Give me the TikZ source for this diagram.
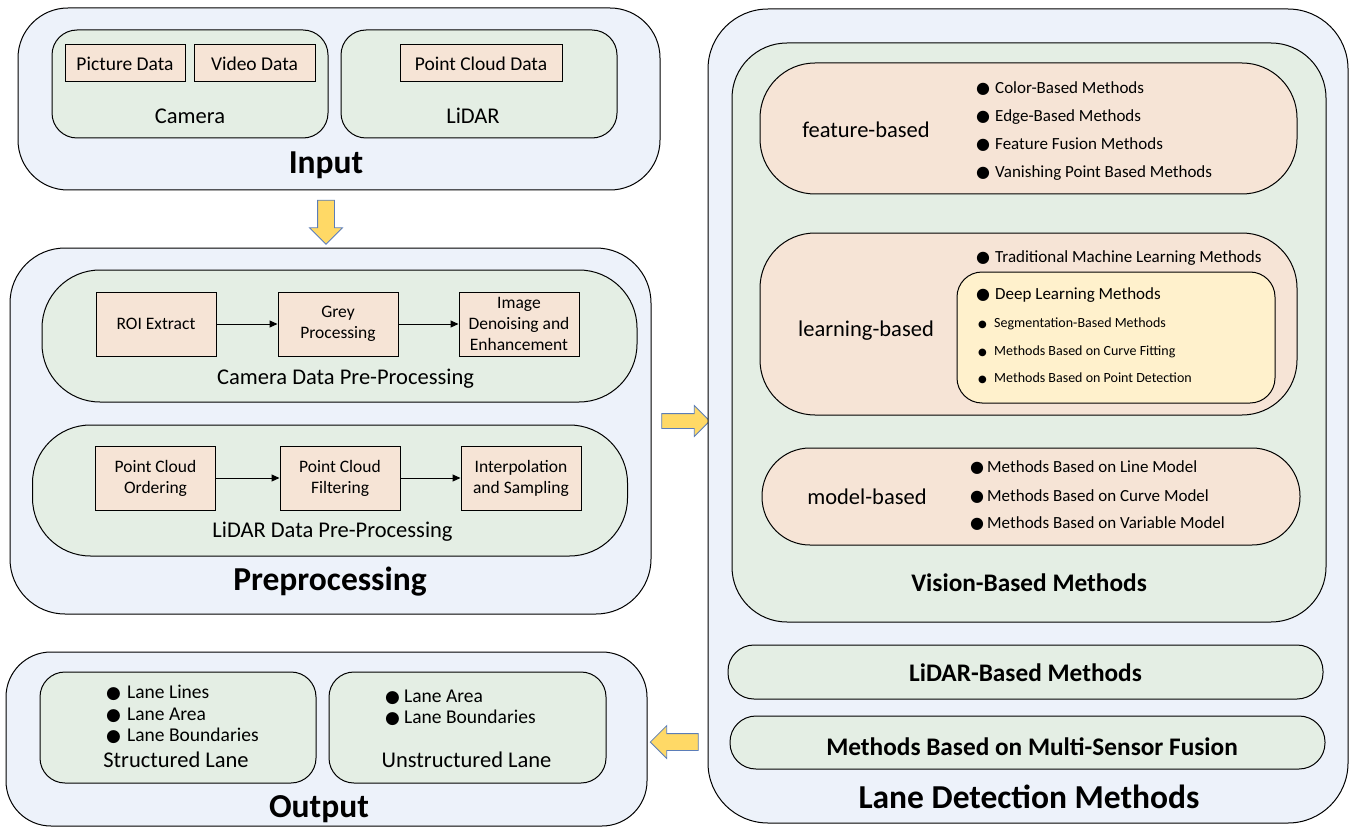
\documentclass[tikz,border=0pt]{standalone}
\usepackage{fontspec}
\setmainfont{Carlito}
\newfontfamily\symfont{DejaVu Sans}
\usetikzlibrary{shapes.arrows}
\usetikzlibrary{arrows.meta}

\definecolor{boxblue}{HTML}{EDF2FA}
\definecolor{boxgreen}{HTML}{E4EEE4}
\definecolor{boxpeach}{HTML}{F6E4D6}
\definecolor{boxyellow}{HTML}{FFF1CC}
\definecolor{arrowfill}{HTML}{FFD966}
\definecolor{arrowline}{HTML}{5B7DB8}

% bullet glyph, then a fixed gap before the item text
\newcommand\bul[2][16]{\makebox[#2][l]{\symfont\fontsize{#1}{#1}\selectfont ●}}

\tikzset{
    bluebox/.style={draw, fill=boxblue, line width=1pt, rounded corners=#1, inner sep=0},
    greenbox/.style={draw, fill=boxgreen, line width=1pt, rounded corners=#1, inner sep=0},
    peachbox/.style={draw, fill=boxpeach, line width=1pt, rounded corners=#1, inner sep=0},
    yellowbox/.style={draw, fill=boxyellow, line width=1pt, rounded corners=#1, inner sep=0},
    databox/.style={draw, fill=boxpeach, line width=1pt, inner sep=1pt, align=center,
        font=\fontsize{19.5}{23}\selectfont},
    procbox/.style={draw, fill=boxpeach, line width=1pt, inner sep=1pt, align=center,
        minimum width=120pt, minimum height=64pt, font=\fontsize{17.5}{21}\selectfont},
    lbl/.style={inner sep=0, text height=#1, text depth=0pt},
    sublbl/.style={lbl=14.2pt, font=\fontsize{22.5}{27}\selectfont},
    midlbl/.style={lbl=16pt, font=\fontsize{25.3}{30}\selectfont\bfseries},
    title/.style={lbl=21pt, font=\fontsize{33.5}{40}\selectfont\bfseries},
    item/.style={lbl=10.7pt, anchor=west, font=\fontsize{17}{20}\selectfont},
    smallitem/.style={lbl=8.8pt, anchor=west, font=\fontsize{14}{17}\selectfont},
    outitem/.style={lbl=12.3pt, anchor=west, font=\fontsize{19.5}{23}\selectfont},
    flow/.style={-{Triangle[length=8pt,width=7pt]}, line width=1pt},
    fatarrow/.style={single arrow, draw=arrowline, fill=arrowfill, line width=0.8pt,
        inner xsep=0, inner ysep=#1, single arrow head extend=8pt}
}

\begin{document}
\begin{tikzpicture}[x=1pt, y=-1pt]
\useasboundingbox (0,0) rectangle (1351,829);

% input
\node[bluebox=50pt, minimum width=642pt, minimum height=182pt] (input) at (339,99) {};
\node[greenbox=25pt, minimum width=276pt, minimum height=108pt] (camera) at (190,84) {};
\node[greenbox=25pt, minimum width=276pt, minimum height=108pt] (lidar) at (479,84) {};
\node[databox, minimum width=120pt, minimum height=37pt] (picture) at (125,63.5) {Picture Data};
\node[databox, minimum width=121pt, minimum height=37pt] (video) at (254.5,63.5) {Video Data};
\node[databox, minimum width=162pt, minimum height=37pt] (cloud) at (481,63.5) {Point Cloud Data};
\node[sublbl] (cameralbl) at (190,116) {Camera};
\node[sublbl] (lidarlbl) at (473,116) {LiDAR};
\node[title] (inputlbl) at (326,163) {Input};

\node[fatarrow=8pt, minimum height=44pt, rotate=-90] (down) at (326,218) {};

% preprocessing
\node[bluebox=55pt, minimum width=641pt, minimum height=366pt] (pre) at (330.5,431) {};
\node[greenbox=58pt, minimum width=595pt, minimum height=132pt] (campre) at (339.5,336) {};
\node[greenbox=58pt, minimum width=595pt, minimum height=131pt] (lidpre) at (330,490.5) {};
\node[procbox] (roi) at (156,324) {ROI Extract};
\node[procbox] (grey) at (338,324) {Grey\\Processing};
\node[procbox] (denoise) at (519,324) {Image\\Denoising and\\Enhancement};
\node[procbox] (order) at (155.5,478) {Point Cloud\\Ordering};
\node[procbox] (filter) at (340,478) {Point Cloud\\Filtering};
\node[procbox] (interp) at (521,478) {Interpolation\\and Sampling};
\draw[flow] (roi) -- (grey);
\draw[flow] (grey) -- (denoise);
\draw[flow] (order) -- (filter);
\draw[flow] (filter) -- (interp);
\node[sublbl] (campreLbl) at (345.5,377) {Camera Data Pre-Processing};
\node[sublbl] (lidpreLbl) at (332.5,530) {LiDAR Data Pre-Processing};
\node[title] (prelbl) at (330,580) {Preprocessing};

\node[fatarrow=7pt, minimum height=48pt] (right) at (682,421) {};
\node[fatarrow=8pt, minimum height=48pt, rotate=180] (left) at (678.5,742) {};

% output
\node[bluebox=45pt, minimum width=641pt, minimum height=174pt] (output) at (326.5,739) {};
\node[greenbox=25pt, minimum width=276pt, minimum height=111pt] (struct) at (178,727.5) {};
\node[greenbox=25pt, minimum width=277pt, minimum height=111pt] (unstruct) at (467.5,727.5) {};
\node[outitem] at (106,692) {\bul[17]{21pt}Lane Lines};
\node[outitem] at (106,714) {\bul[17]{21pt}Lane Area};
\node[outitem] at (106,735) {\bul[17]{21pt}Lane Boundaries};
\node[sublbl] (structlbl) at (176,760) {Structured Lane};
\node[outitem] at (385,696) {\bul[17]{19pt}Lane Area};
\node[outitem] at (385,717) {\bul[17]{19pt}Lane Boundaries};
\node[sublbl] (unstructlbl) at (466.5,760) {Unstructured Lane};
\node[title] (outputlbl) at (319,807) {Output};

% lane detection methods
\node[bluebox=60pt, minimum width=640pt, minimum height=814pt] (lanedet) at (1028,416) {};
\node[greenbox=55pt, minimum width=594pt, minimum height=579pt] (vision) at (1029,332.5) {};
\node[peachbox=55pt, minimum width=537pt, minimum height=131pt] (feature) at (1028.5,128.5) {};
\node[peachbox=55pt, minimum width=537pt, minimum height=182pt] (learning) at (1028.5,324) {};
\node[yellowbox=25pt, minimum width=318pt, minimum height=131pt] (deep) at (1116,337.5) {};
\node[peachbox=48pt, minimum width=538pt, minimum height=97pt] (model) at (1031,496.5) {};
\node[greenbox=26pt, minimum width=595pt, minimum height=54pt] (lidarm) at (1025.5,672) {};
\node[greenbox=26pt, minimum width=595pt, minimum height=53pt] (fusion) at (1027.5,742.5) {};

\node[sublbl] (featurelbl) at (866,130) {feature-based};
\node[item] at (976,88) {\bul{19pt}Color-Based Methods};
\node[item] at (976,116) {\bul{19pt}Edge-Based Methods};
\node[item] at (976,144) {\bul{19pt}Feature Fusion Methods};
\node[item] at (976,172) {\bul{19pt}Vanishing Point Based Methods};

\node[sublbl] (learninglbl) at (866,329) {learning-based};
\node[item] at (976,257) {\bul{19pt}Traditional Machine Learning Methods};
\node[item] at (976,294) {\bul{19pt}Deep Learning Methods};
\node[smallitem] at (978,323) {\bul[10]{16pt}Segmentation-Based Methods};
\node[smallitem] at (978,351) {\bul[10]{16pt}Methods Based on Curve Fitting};
\node[smallitem] at (978,378) {\bul[10]{16pt}Methods Based on Point Detection};

\node[sublbl] (modellbl) at (867,497) {model-based};
\node[item] at (970,467) {\bul{17pt}Methods Based on Line Model};
\node[item] at (970,496) {\bul{17pt}Methods Based on Curve Model};
\node[item] at (970,523) {\bul{17pt}Methods Based on Variable Model};

\node[midlbl] (visionlbl) at (1029,583) {Vision-Based Methods};
\node[midlbl] (lidarmlbl) at (1025.5,673) {LiDAR-Based Methods};
\node[midlbl] (fusionlbl) at (1032,747) {Methods Based on Multi-Sensor Fusion};
\node[title] (lanedetlbl) at (1029,798) {Lane Detection Methods};
\end{tikzpicture}
\end{document}
